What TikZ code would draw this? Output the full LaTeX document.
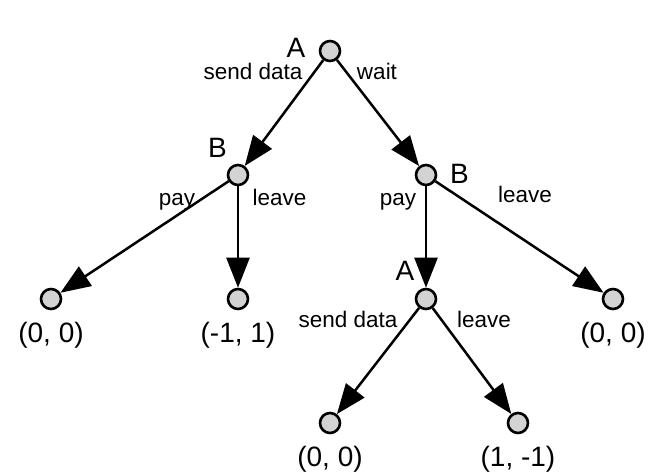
\documentclass[tikz,border=0pt]{standalone}
\usepackage{fontspec}
\setmainfont{Liberation Sans}
\usetikzlibrary{arrows.meta}
\definecolor{nodegray}{RGB}{211,211,211}
\newcommand{\decNode}[2]{\node[dec] (#1) at (#2) {};}
\newcommand{\leafNode}[3]{\node[dec] (#1) at (#2) {};
	\node[pay, anchor=base] (p#1) at ([yshift=-43pt]#1) {#3};}

\begin{document}
\begin{tikzpicture}[x=1pt, y=-1pt,
	dec/.style={circle, draw, line width=2.6pt, fill=nodegray, minimum size=20pt, inner sep=0pt},
	move/.style={line width=2.5pt, -{Triangle[length=30pt,width=23pt]}},
	act/.style={font=\fontsize{22.5}{27}\selectfont, inner sep=0pt, anchor=base},
	who/.style={font=\fontsize{28}{33}\selectfont, inner sep=0pt, anchor=base},
	pay/.style={font=\fontsize{28}{33}\selectfont, inner sep=0pt}]
	\useasboundingbox (0,0) rectangle (664,475);
	\decNode{a1}{330,51} \decNode{b1}{238,175} \decNode{b2}{426,175}
	\decNode{a2}{426,299}
	\leafNode{l1}{51,299}{(0, 0)} \leafNode{l2}{238,299}{(-1, 1)}
	\leafNode{l3}{613,299}{(0, 0)} \leafNode{l4}{330,423}{(0, 0)}
	\leafNode{l5}{518,423}{(1, -1)}
	% players
	\node[who] (na1) at (296,57) {A}; \node[who] (nb1) at (217.5,157) {B};
	\node[who] (nb2) at (459.5,183) {B}; \node[who] (na2) at (405,280) {A};
	% moves
	\draw[move] (a1) -- (b1); \draw[move] (a1) -- (b2);
	\draw[move] (b1) -- (l1); \draw[move] (b1) -- (l2);
	\draw[move] (b2) -- (a2); \draw[move] (b2) -- (l3);
	\draw[move] (a2) -- (l4); \draw[move] (a2) -- (l5);
	\node[act] (m1) at (253,79) {send data}; \node[act] (m2) at (377,79) {wait};
	\node[act] (m3) at (177,205) {pay}; \node[act] (m4) at (279.5,205) {leave};
	\node[act] (m5) at (398,205) {pay}; \node[act] (m6) at (525,202) {leave};
	\node[act] (m7) at (348,327) {send data}; \node[act] (m8) at (484,327) {leave};
\end{tikzpicture}
\end{document}
